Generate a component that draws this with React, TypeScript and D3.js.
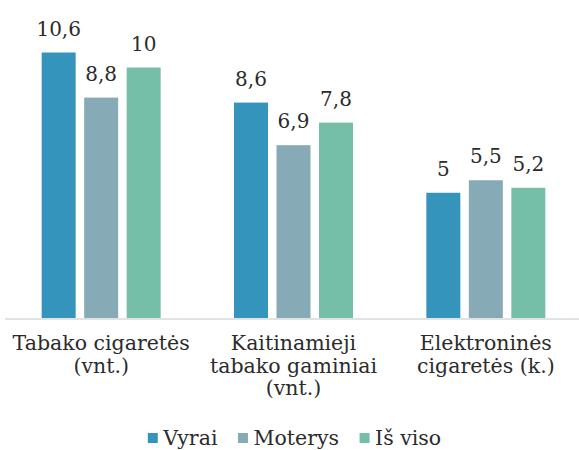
import { useRef, useEffect } from 'react';
import { select, scaleBand, scaleLinear } from 'd3';

const categories = [
  ['Tabako cigaretės', '(vnt.)'],
  ['Kaitinamieji', 'tabako gaminiai', '(vnt.)'],
  ['Elektroninės', 'cigaretės (k.)'],
];
const seriesNames = ['Vyrai', 'Moterys', 'Iš viso'];
const colors = ['#3594bb', '#86abb6', '#75bea7'];
const vyrai = [10.6, 8.6, 5];
const moterys = [8.8, 6.9, 5.5];
const isViso = [10, 7.8, 5.2];
const values = [vyrai, moterys, isViso];

const fmt = (v: number) => String(v).replace('.', ',');

export default function App() {
  const ref = useRef<SVGSVGElement>(null);
  const width = 579;
  const height = 450;

  useEffect(() => {
    if (!ref.current) return;
    const svg = select(ref.current);
    svg.selectAll('*').remove();

    const font = 'DejaVu Serif, serif';
    const textColor = '#2b2b2b';
    const base = 318;

    const x0 = scaleBand<number>()
      .domain(categories.map((_, i) => i))
      .range([5, 582]);
    const x1 = scaleBand<number>()
      .domain(seriesNames.map((_, i) => i))
      .range([0, 127.5])
      .paddingInner(0.2)
      .paddingOuter(0.1);
    const y = scaleLinear().domain([0, 10.6]).range([base, 52.5]);

    const groups = svg
      .append('g')
      .selectAll('g')
      .data(categories.map((_, i) => i))
      .join('g')
      .attr('transform', i => `translate(${x0(i)! + x0.bandwidth() / 2 - 63.75},0)`);

    groups
      .selectAll('rect')
      .data(i => values.map((s, k) => ({ k, v: s[i] })))
      .join('rect')
      .attr('x', d => x1(d.k)!)
      .attr('y', d => y(d.v))
      .attr('width', x1.bandwidth())
      .attr('height', d => base - y(d.v))
      .attr('fill', d => colors[d.k]);

    groups
      .selectAll('text')
      .data(i => values.map((s, k) => ({ k, v: s[i] })))
      .join('text')
      .attr('x', d => x1(d.k)! + x1.bandwidth() / 2)
      .attr('y', d => y(d.v) - 17)
      .attr('text-anchor', 'middle')
      .attr('font-family', font)
      .attr('font-size', 20)
      .attr('fill', textColor)
      .text(d => fmt(d.v));

    svg
      .append('line')
      .attr('x1', 5)
      .attr('x2', width)
      .attr('y1', base + 1)
      .attr('y2', base + 1)
      .attr('stroke', '#d9d9d9')
      .attr('stroke-width', 1.5);

    // category labels
    categories.forEach((lines, i) => {
      const t = svg
        .append('text')
        .attr('text-anchor', 'middle')
        .attr('font-family', font)
        .attr('font-size', 20.5)
        .attr('fill', textColor);
      lines.forEach((line, j) => {
        t.append('tspan')
          .attr('x', x0(i)! + x0.bandwidth() / 2)
          .attr('y', 350 + j * 22.5)
          .text(line);
      });
    });

    // legend
    const lg = svg.append('g');
    let cx = 0;
    seriesNames.forEach((name, k) => {
      lg.append('rect')
        .attr('x', cx)
        .attr('y', 433)
        .attr('width', 10)
        .attr('height', 10)
        .attr('fill', colors[k]);
      const t = lg
        .append('text')
        .attr('x', cx + 15.5)
        .attr('y', 445)
        .attr('font-family', font)
        .attr('font-size', 20.5)
        .attr('fill', textColor)
        .text(name);
      cx += 15.5 + (t.node() as SVGTextElement).getComputedTextLength() + 20.5;
    });
    const lw = cx - 20.5;
    lg.attr('transform', `translate(${width / 2 + 5 - lw / 2},0)`);
  }, []);

  return (
    <svg
      ref={ref}
      width={width}
      height={height}
      style={{ position: 'absolute', left: 0, top: 0, background: '#fff' }}
    />
  );
}
